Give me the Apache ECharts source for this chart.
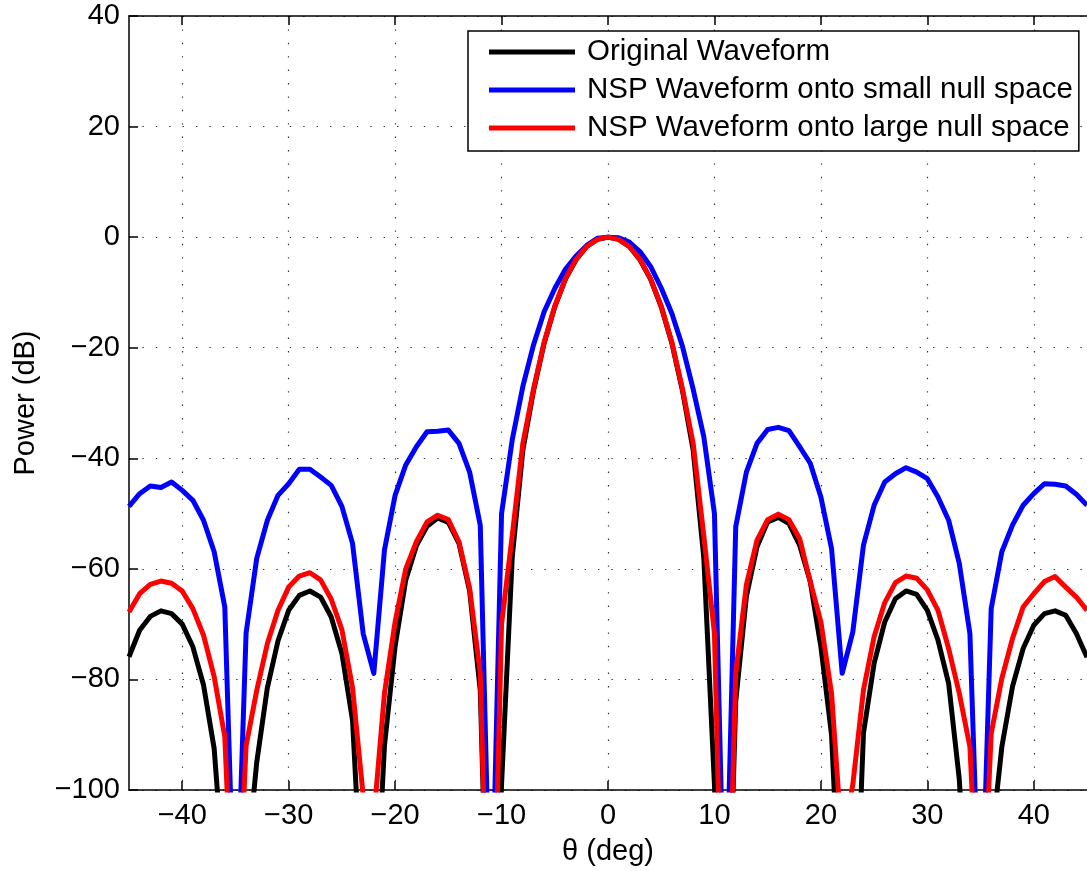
<!DOCTYPE html>
<html>
<head>
<meta charset="utf-8">
<script src="https://cdn.jsdelivr.net/npm/echarts@6/dist/echarts.min.js"></script>
<style>
html,body{margin:0;padding:0;background:#fff;}
#chart{width:1087px;height:871px;}
</style>
</head>
<body>
<div id="chart"></div>
<script>
const theta = [-45,-44,-43,-42,-41,-40,-39,-38,-37,-36,-35,-34,-33,-32,-31,-30,-29,-28,-27,-26,-25,-24,-23,-22,-21,-20,-19,-18,-17,-16,-15,-14,-13,-12,-11,-10,-9,-8,-7,-6,-5,-4,-3,-2,-1,0,1,2,3,4,5,6,7,8,9,10,11,12,13,14,15,16,17,18,19,20,21,22,23,24,25,26,27,28,29,30,31,32,33,34,35,36,37,38,39,40,41,42,43,44,45];

const original = [-75.9,-71.1,-68.6,-67.6,-68.1,-70.0,-74.1,-81.0,-92.5,-118,-150,-115,-95,-81.5,-73,-67.5,-64.8,-64.0,-65.1,-68.7,-75.3,-87.4,-124,-130,-92,-74,-62,-55.8,-52.3,-50.8,-51.6,-55.4,-64,-82,-150,-99,-58,-38.5,-27.8,-19.2,-12.6,-7.6,-4.1,-1.7,-0.4,0,-0.4,-1.7,-4.1,-7.6,-12.6,-19.2,-27.8,-38.5,-58,-99,-150,-84,-65,-56,-51.5,-50.7,-51.8,-55.7,-62.3,-74.1,-90,-130,-140,-89.7,-77.1,-69.6,-65.4,-64.0,-64.6,-67.5,-72.9,-80.7,-98,-130,-160,-110,-92.2,-81.3,-74.4,-70.2,-68.1,-67.6,-68.4,-71.7,-76];

const nspSmall = [-48.7,-46.4,-45.0,-45.3,-44.3,-45.8,-47.6,-51.2,-56.9,-66.9,-130,-71.6,-58.1,-51.2,-46.7,-44.6,-42.0,-42.0,-43.4,-44.9,-48.7,-55.4,-71.7,-78.9,-56.6,-46.7,-41.2,-37.9,-35.2,-35.1,-34.9,-37.3,-42.5,-52.1,-130,-50.0,-36.7,-27,-19.5,-13.5,-9.3,-5.8,-3.4,-1.5,-0.2,0,-0.1,-0.9,-2.6,-5.3,-9.2,-13.8,-19.8,-27.5,-36.1,-50.0,-130,-52.4,-42.5,-37.3,-34.8,-34.4,-35.0,-37.9,-40.9,-47.0,-56.3,-78.9,-71.4,-55.7,-48.5,-44.3,-42.8,-41.7,-42.5,-43.7,-47.0,-51.2,-59.0,-71.7,-130,-67.2,-56.9,-52.1,-48.5,-46.4,-44.6,-44.7,-45.0,-46.5,-48.5];

const nspLarge = [-67.8,-64.5,-62.8,-62.2,-62.6,-64.0,-67.2,-72.0,-79.5,-90.4,-135,-92,-82,-73.5,-67.5,-63.3,-61.3,-60.7,-62.0,-65.5,-71.0,-81.5,-101,-105,-82.5,-69.6,-60,-55.1,-51.5,-50.3,-51.1,-55.1,-63.5,-78.9,-150,-70,-54,-37.3,-27.5,-19,-12.5,-7.5,-4,-1.7,-0.4,0,-0.4,-1.7,-4,-7.5,-12.5,-19,-27.5,-37.3,-54,-71.7,-150,-78.9,-62.9,-54.8,-51.1,-50.1,-51.1,-54.5,-62.3,-69.6,-82.5,-110,-99,-81.9,-72.3,-66.1,-62.5,-61.3,-61.7,-63.8,-67.5,-74.4,-82.5,-92.2,-132,-89.8,-79.8,-72.6,-66.9,-64.5,-62.3,-61.4,-63.3,-65.1,-67.5];

const seriesNames = ['Original Waveform','NSP Waveform onto small null space','NSP Waveform onto large null space'];
const seriesColors = ['#000000','#0000ff','#ff0000'];
const xTicks = [-40,-30,-20,-10,0,10,20,30,40];

const FONT = 'Liberation Sans, Arial, Helvetica, sans-serif';
const minus = v => (v < 0 ? '\u2212' + Math.abs(v) : String(v));

const chart = echarts.init(document.getElementById('chart'), null, {renderer:'canvas'});

const gridLine = {show:true, lineStyle:{color:'#333', width:1.2, type:[1.4,12]}};

const option = {
  animation:false,
  backgroundColor:'#ffffff',
  grid:{left:129, top:16, width:967.5, height:774, containLabel:false},
  legend:{
    data:seriesNames,
    orient:'vertical',
    left:468, top:31,
    backgroundColor:'#ffffff',
    borderColor:'#000', borderWidth:1.5, borderRadius:0,
    padding:[5,6,7,21],
    itemWidth:86, itemHeight:5, itemGap:6,
    icon:'rect',
    textStyle:{fontFamily:FONT, fontSize:29.5, color:'#000', lineHeight:32, padding:[0,0,0,7]}
  },
  xAxis:[{
    type:'value', min:-45, max:45, position:'bottom',
    name:'\u03b8 (deg)', nameLocation:'middle', nameGap:47,
    nameTextStyle:{fontFamily:FONT, fontSize:29, color:'#000'},
    axisLine:{show:true, onZero:false, lineStyle:{color:'#000', width:1.5}},
    axisTick:{show:true, inside:true, length:9, customValues:xTicks, lineStyle:{color:'#000', width:1.5}},
    axisLabel:{show:true, margin:11, customValues:xTicks, formatter:minus, fontFamily:FONT, fontSize:29, color:'#000'},
    splitLine:gridLine
  },{
    type:'value', min:-45, max:45, position:'top',
    axisLine:{show:true, onZero:false, lineStyle:{color:'#000', width:1.5}},
    axisTick:{show:true, inside:true, length:9, customValues:xTicks, lineStyle:{color:'#000', width:1.5}},
    axisLabel:{show:false},
    splitLine:{show:false}
  }],
  yAxis:[{
    type:'value', min:-100, max:40, interval:20, position:'left',
    name:'Power (dB)', nameLocation:'middle', nameGap:89,
    nameTextStyle:{fontFamily:FONT, fontSize:29, color:'#000'},
    axisLine:{show:true, onZero:false, lineStyle:{color:'#000', width:1.5}},
    axisTick:{show:true, inside:true, length:9, lineStyle:{color:'#000', width:1.5}},
    axisLabel:{show:true, margin:9, formatter:minus, fontFamily:FONT, fontSize:29, color:'#000'},
    splitLine:gridLine
  }],
  series:[original, nspSmall, nspLarge].map((vals, k) => ({
    name:seriesNames[k],
    type:'line',
    data:theta.map((t,i)=>[t, vals[i]]),
    showSymbol:false, symbol:'none',
    clip:true,
    color:seriesColors[k],
    lineStyle:{color:seriesColors[k], width:5, join:'round'},
    z:2+k
  }))
};
chart.setOption(option);
</script>
</body>
</html>
